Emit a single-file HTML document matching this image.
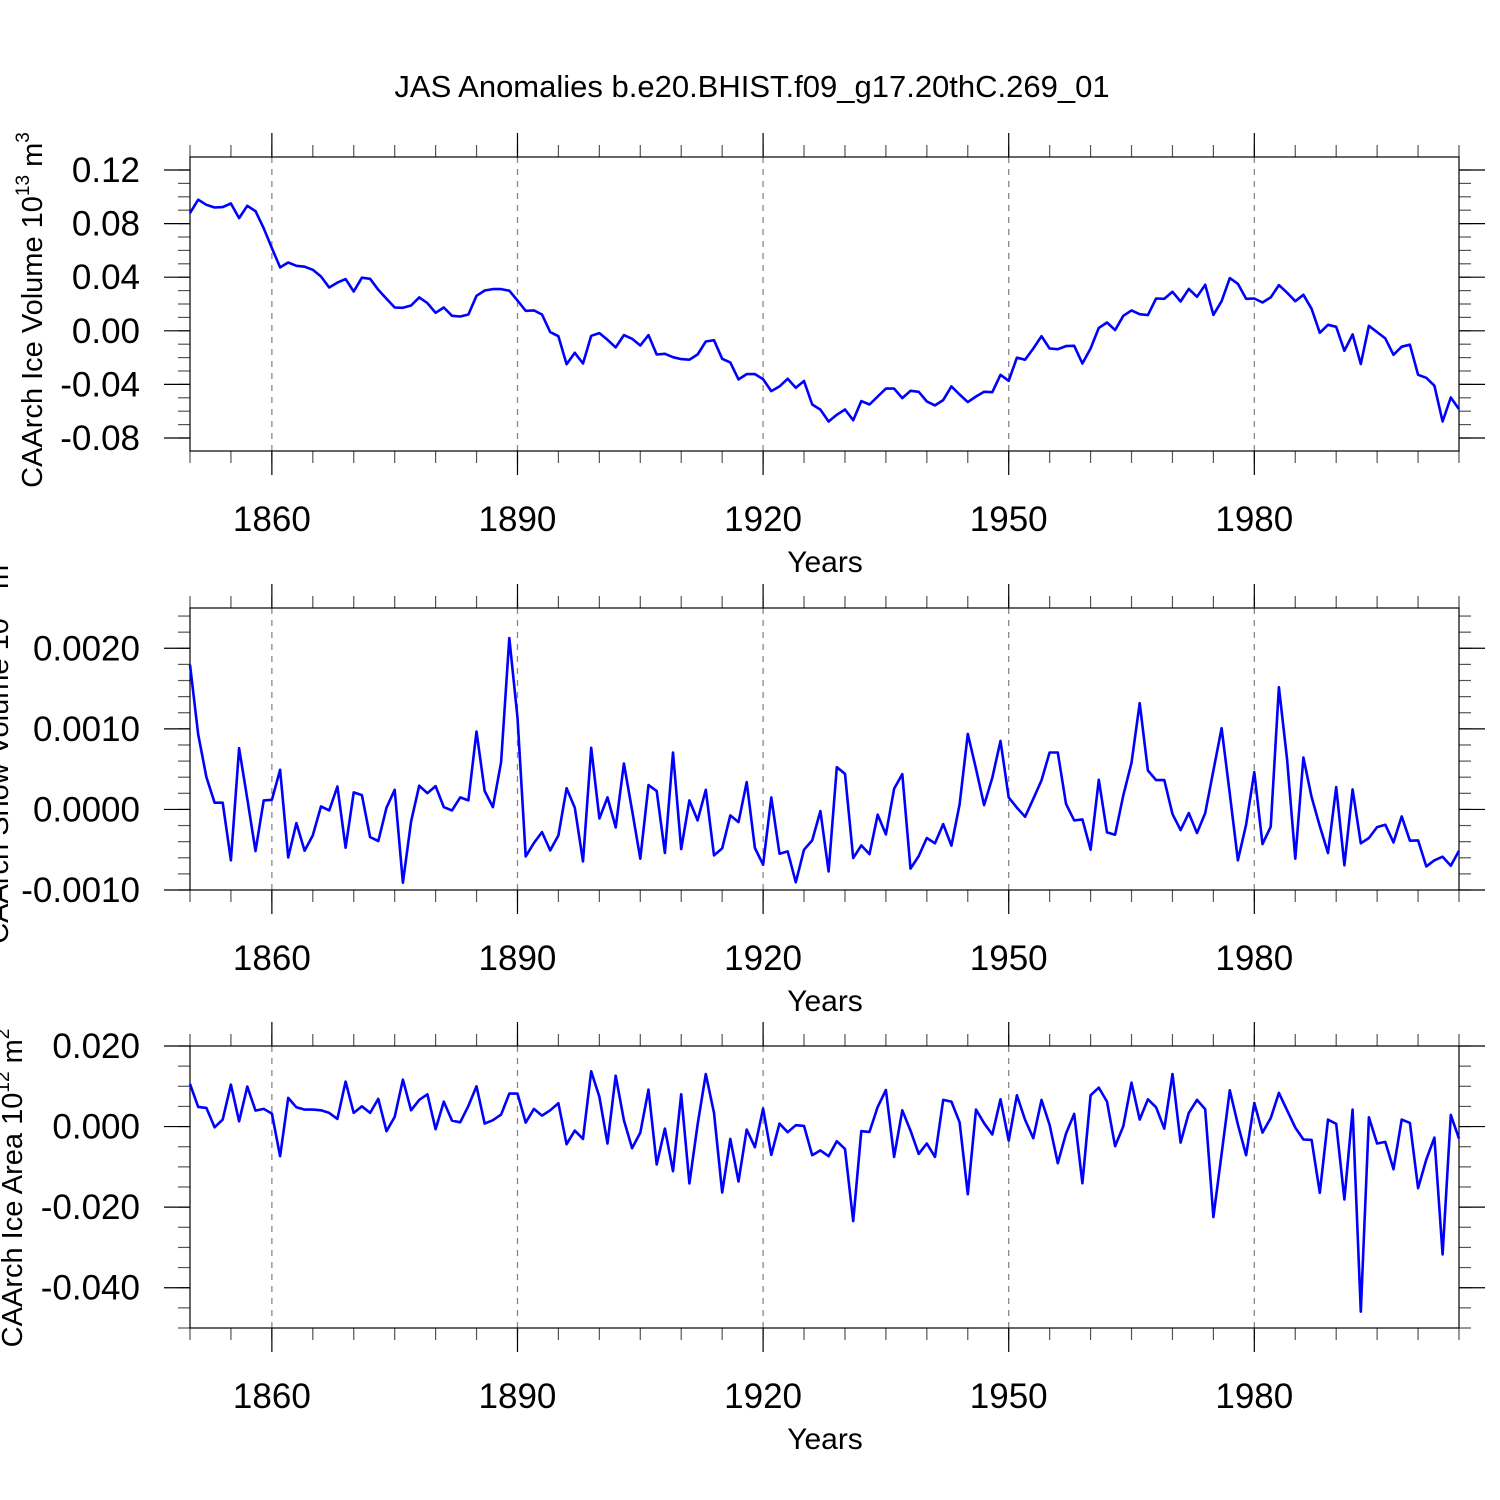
<!DOCTYPE html>
<html><head><meta charset="utf-8"><style>
html,body{margin:0;padding:0;background:#fff}
svg{display:block}
text{font-family:"Liberation Sans",sans-serif;fill:#000}
</style></head><body>
<svg id="chart" width="1500" height="1500" viewBox="0 0 1500 1500" xmlns="http://www.w3.org/2000/svg">
<rect width="1500" height="1500" fill="#fff"/>
<text x="752" y="97" font-size="31" text-anchor="middle">JAS Anomalies b.e20.BHIST.f09_g17.20thC.269_01</text>
<g id="plots"></g>
</svg>
<script>
const startYear = 1850;
const xTickYears = [1860, 1890, 1920, 1950, 1980];
const iceVolume = [0.0878,0.0978,0.0940,0.0920,0.0923,0.0950,0.0841,0.0933,0.0893,0.0766,0.0617,0.0473,0.0510,0.0485,0.0478,0.0455,0.0405,0.0323,0.0360,0.0386,0.0293,0.0396,0.0388,0.0306,0.0239,0.0174,0.0172,0.0189,0.0249,0.0207,0.0134,0.0174,0.0112,0.0107,0.0122,0.0261,0.0301,0.0311,0.0311,0.0299,0.0226,0.0149,0.0152,0.0122,-0.0010,-0.0040,-0.0249,-0.0164,-0.0244,-0.0037,-0.0017,-0.0067,-0.0124,-0.0032,-0.0060,-0.0110,-0.0032,-0.0177,-0.0172,-0.0197,-0.0211,-0.0216,-0.0177,-0.0080,-0.0070,-0.0209,-0.0236,-0.0363,-0.0323,-0.0323,-0.0361,-0.0450,-0.0415,-0.0358,-0.0425,-0.0375,-0.0550,-0.0588,-0.0677,-0.0627,-0.0587,-0.0667,-0.0525,-0.0550,-0.0490,-0.0431,-0.0431,-0.0502,-0.0448,-0.0455,-0.0527,-0.0557,-0.0517,-0.0415,-0.0475,-0.0532,-0.0490,-0.0455,-0.0458,-0.0328,-0.0373,-0.0201,-0.0216,-0.0132,-0.0040,-0.0132,-0.0137,-0.0114,-0.0112,-0.0244,-0.0132,0.0022,0.0062,0.0005,0.0112,0.0152,0.0124,0.0117,0.0241,0.0239,0.0291,0.0219,0.0313,0.0254,0.0343,0.0119,0.0221,0.0393,0.0351,0.0239,0.0241,0.0211,0.0249,0.0341,0.0284,0.0221,0.0269,0.0164,-0.0015,0.0045,0.0030,-0.0149,-0.0027,-0.0248,0.0037,-0.0010,-0.0057,-0.0179,-0.0119,-0.0104,-0.0328,-0.0351,-0.0410,-0.0677,-0.0498,-0.0584];
const snowVolume = [1.797,0.930,0.401,0.083,0.083,-0.632,0.760,0.132,-0.517,0.112,0.120,0.492,-0.595,-0.170,-0.512,-0.322,0.037,-0.012,0.285,-0.475,0.211,0.178,-0.343,-0.393,0.021,0.244,-0.909,-0.149,0.294,0.202,0.289,0.029,-0.012,0.149,0.112,0.967,0.227,0.029,0.586,2.128,1.140,-0.583,-0.417,-0.281,-0.508,-0.322,0.264,0.021,-0.645,0.765,-0.112,0.149,-0.223,0.570,-0.012,-0.612,0.302,0.227,-0.541,0.707,-0.492,0.112,-0.136,0.244,-0.570,-0.483,-0.074,-0.157,0.339,-0.479,-0.686,0.149,-0.550,-0.521,-0.905,-0.500,-0.384,-0.021,-0.769,0.524,0.442,-0.604,-0.446,-0.554,-0.066,-0.310,0.256,0.438,-0.735,-0.579,-0.355,-0.421,-0.182,-0.450,0.062,0.938,0.504,0.054,0.392,0.851,0.149,0.021,-0.091,0.132,0.360,0.707,0.707,0.070,-0.136,-0.124,-0.500,0.368,-0.285,-0.314,0.174,0.579,1.318,0.483,0.364,0.364,-0.058,-0.256,-0.045,-0.293,-0.045,0.483,1.008,0.194,-0.632,-0.190,0.463,-0.430,-0.215,1.517,0.620,-0.612,0.645,0.153,-0.207,-0.541,0.277,-0.694,0.248,-0.421,-0.355,-0.219,-0.190,-0.409,-0.087,-0.388,-0.384,-0.707,-0.632,-0.587,-0.698,-0.512].map(v => v * 0.001);
const iceArea = [10.58,4.88,4.63,-0.17,1.74,10.41,1.32,9.92,3.97,4.38,3.22,-7.36,7.11,4.79,4.21,4.21,4.05,3.39,1.90,11.16,3.39,5.04,3.39,6.86,-1.16,2.40,11.65,4.05,6.61,8.02,-0.66,6.20,1.49,1.07,5.12,10.00,0.74,1.57,2.98,8.18,8.18,0.99,4.38,2.73,4.05,5.79,-4.38,-0.99,-3.06,13.72,7.36,-4.21,12.64,1.57,-5.37,-1.49,9.17,-9.42,-0.50,-11.07,8.02,-14.13,0.50,13.06,3.39,-16.36,-3.06,-13.64,-0.74,-5.12,4.46,-7.03,0.74,-1.40,0.33,0.17,-7.11,-5.91,-7.36,-3.64,-5.54,-23.47,-1.16,-1.32,4.88,9.09,-7.52,4.05,-0.99,-6.78,-4.21,-7.52,6.61,6.20,1.07,-16.78,4.21,0.83,-1.98,6.78,-3.47,7.77,1.65,-2.89,6.61,0.41,-9.09,-1.74,3.14,-14.05,7.77,9.67,6.20,-4.88,0.08,10.91,1.74,6.78,4.79,-0.50,13.06,-3.97,3.39,6.61,4.30,-22.48,-6.78,9.01,0.50,-7.11,5.87,-1.49,2.07,8.35,4.05,-0.25,-3.22,-3.31,-16.45,1.74,0.66,-18.10,4.21,-45.95,2.31,-4.21,-3.80,-10.58,1.74,0.91,-15.29,-8.18,-2.73,-31.73,2.89,-2.98].map(v => v * 0.001);
const iceVolTicks = [0.12, 0.08, 0.04, 0.00, -0.04, -0.08];
const iceVolLabels = ["0.12","0.08","0.04","0.00","-0.04","-0.08"];
const snowTicks = [0.002, 0.001, 0, -0.001];
const snowLabels = ["0.0020","0.0010","0.0000","-0.0010"];
const areaTicks = [0.02, 0, -0.02, -0.04];
const areaLabels = ["0.020","0.000","-0.020","-0.040"];

const NS = "http://www.w3.org/2000/svg";
const root = document.getElementById('plots');
const X0 = 190, X1 = 1459, Y_START = 1850, Y_END = 2005;
function xScale(yr){ return X0 + (yr - Y_START) / (Y_END - Y_START) * (X1 - X0); }
function mk(tag, attrs, parent){ const e = document.createElementNS(NS, tag); for (const k in attrs) e.setAttribute(k, attrs[k]); (parent||root).appendChild(e); return e; }

function panel(cfg){
  const g = mk('g', {});
  
  
  const yScale = v => cfg.top + (cfg.vmax - v) / (cfg.vmax - cfg.vmin) * (cfg.bottom - cfg.top);
  xTickYears.forEach(yr => {
    const l = mk('line', {x1:xScale(yr), x2:xScale(yr), y1:cfg.top, y2:cfg.bottom, stroke:'#888', 'stroke-width':1.3, 'stroke-dasharray':'6,6'}, g);
    
    
  });
  for (let yr = 1850; yr <= 2005; yr += 5) {
    const x = xScale(yr);
    mk('line', {x1:x, x2:x, y1:cfg.bottom, y2:cfg.bottom+12, stroke:'#555', 'stroke-width':1.2}, g);
    mk('line', {x1:x, x2:x, y1:cfg.top, y2:cfg.top-12, stroke:'#555', 'stroke-width':1.2}, g);
  }
  xTickYears.forEach(yr => {
    const x = xScale(yr);
    mk('line', {x1:x, x2:x, y1:cfg.bottom, y2:cfg.bottom+24, stroke:'#000', 'stroke-width':1.2}, g);
    mk('line', {x1:x, x2:x, y1:cfg.top, y2:cfg.top-24, stroke:'#000', 'stroke-width':1.2}, g);
    const t = mk('text', {x:x, y:cfg.bottom+80, 'font-size':35, 'text-anchor':'middle'}, g);
    t.textContent = String(yr);
    
    
  });
  for (let v = cfg.minorStart; v >= cfg.vmin - 1e-9; v -= cfg.minor) {
    const y = yScale(v);
    if (y < cfg.top - 0.5 || y > cfg.bottom + 0.5) continue;
    mk('line', {x1:X0-12, x2:X0, y1:y, y2:y, stroke:'#555', 'stroke-width':1.2}, g);
    mk('line', {x1:X1, x2:X1+12, y1:y, y2:y, stroke:'#555', 'stroke-width':1.2}, g);
  }
  cfg.ticks.forEach((v, i) => {
    const y = yScale(v);
    mk('line', {x1:X0-26, x2:X0, y1:y, y2:y, stroke:'#000', 'stroke-width':1.2}, g);
    mk('line', {x1:X1, x2:X1+26, y1:y, y2:y, stroke:'#000', 'stroke-width':1.2}, g);
    const t = mk('text', {x:140, y:y+12, 'font-size':35, 'text-anchor':'end'}, g);
    t.textContent = cfg.labels[i];
    
    
  });
  const fr = mk('rect', {x:X0, y:cfg.top, width:X1-X0, height:cfg.bottom-cfg.top, fill:'none', stroke:'#000', 'stroke-width':1.2}, g);
  
  
  const pts = cfg.data.map((v, i) => xScale(startYear + i).toFixed(1) + ',' + yScale(v).toFixed(1)).join(' ');
  const pl = mk('polyline', {points:pts, fill:'none', stroke:'#0000ff', 'stroke-width':2.6, 'stroke-linejoin':'round'}, g);
  
  
  const xt = mk('text', {x:825, y:cfg.bottom+121, 'font-size':30, 'text-anchor':'middle'}, g);
  xt.textContent = 'Years';
  
  
  const yt = mk('text', {transform:`translate(${cfg.ytx},${cfg.yty}) rotate(-90)`, 'font-size':29, 'text-anchor':'middle'}, g);
  yt.innerHTML = cfg.ytitle;
  
  
}

panel({name:'ice-volume-panel', top:157, bottom:451, vmax:0.12+13/1340, vmin:-0.08-13/1340, ticks:iceVolTicks, labels:iceVolLabels, minor:0.01, minorStart:0.12, data:iceVolume, ytx:42, yty:310,
  ytitle:'CAArch Ice Volume 10<tspan font-size="19" dy="-13">13</tspan><tspan dy="13"> m</tspan><tspan font-size="19" dy="-13">3</tspan>'});
panel({name:'snow-volume-panel', top:608, bottom:890, vmax:0.0025, vmin:-0.001, ticks:snowTicks, labels:snowLabels, minor:0.0002, minorStart:0.0024, data:snowVolume, ytx:8, yty:749,
  ytitle:'CAArch Snow Volume 10<tspan font-size="19" dy="-13">13</tspan><tspan dy="13"> m</tspan><tspan font-size="19" dy="-13">3</tspan>'});
panel({name:'ice-area-panel', top:1046, bottom:1328, vmax:0.02, vmin:-0.05, ticks:areaTicks, labels:areaLabels, minor:0.005, minorStart:0.02, data:iceArea, ytx:22, yty:1188,
  ytitle:'CAArch Ice Area 10<tspan font-size="19" dy="-13">12</tspan><tspan dy="13"> m</tspan><tspan font-size="19" dy="-13">2</tspan>'});
</script>
</body></html>
